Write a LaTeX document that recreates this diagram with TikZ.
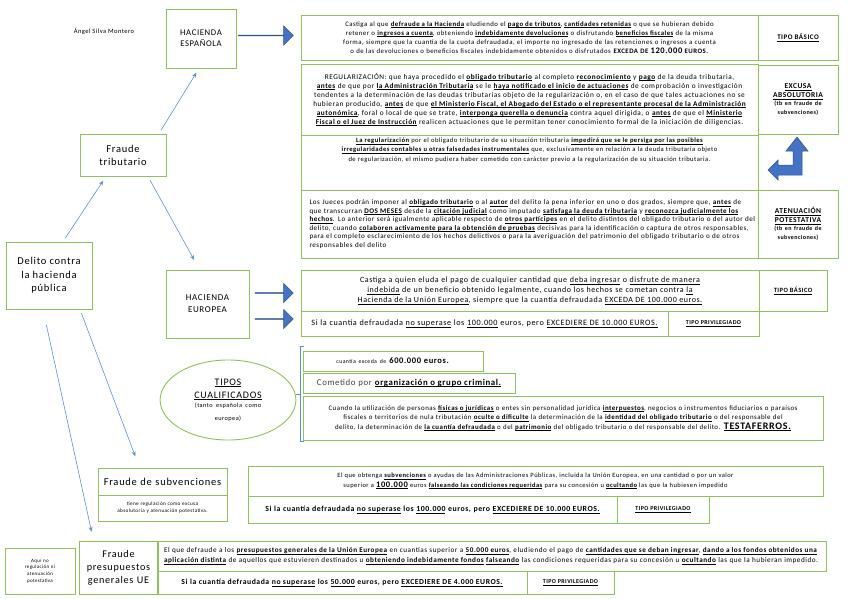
\documentclass[tikz,border=0pt]{standalone}
\usepackage{fontspec}
\setmainfont{Carlito}[LetterSpace=7]
\usetikzlibrary{arrows.meta,shapes.geometric,shapes.arrows}
\definecolor{BoxGreen}{RGB}{140,195,90}
\definecolor{ArrowBlue}{RGB}{68,114,196}
\definecolor{ArrowEdge}{RGB}{47,82,143}
\definecolor{LineBlue}{RGB}{91,145,210}
\hyphenpenalty=10000
\exhyphenpenalty=10000
\def\ulword#1{\setbox0\hbox{#1}\rlap{\vrule height -1.2pt depth 1.6pt width \wd0}\box0}
\def\ulspace{\leaders\hrule height -1.2pt depth 1.6pt\hskip\fontdimen2\font}
\def\rayadoiter#1 #2\relax{\ulword{#1}\if\relax\detokenize{#2}\relax\else\ulspace\rayadoiter#2\relax\fi}
\newcommand{\rayado}[1]{\leavevmode{\bfseries\rayadoiter#1 \relax}}
\newcommand{\subraya}[1]{\leavevmode{\rayadoiter#1 \relax}}

\begin{document}
\begin{tikzpicture}[x=1pt,y=-1pt,
                    caja/.style={draw=BoxGreen,line width=0.9pt,inner sep=2pt,align=center},
                    bloque/.style={single arrow,fill=ArrowBlue,draw=ArrowEdge,line width=0.5pt,inner sep=0pt,single arrow head extend=5pt,minimum width=19pt},
                    enlace/.style={LineBlue,line width=0.6pt,arrows={-Stealth[length=5pt,width=4pt]},shorten <=4pt,shorten >=5pt}]
                    \useasboundingbox (0,0) rectangle (848,599);

                    \node[font=\fontsize{6.5}{8}\selectfont] (firma) at (104,31) {Ángel Silva Montero};

%                    hacienda española
                    \node[caja,minimum width=70,minimum height=59,font=\fontsize{8.7}{11}\selectfont] (hesp) at (201,38.5) {HACIENDA\\ESPAÑOLA};
                    \node[bloque,minimum height=55] (flechaEsp) at (265.5,35.5) {};
                    \node[caja,minimum width=457,minimum height=45,text width=418,font=\fontsize{6.8}{9.2}\selectfont] (basicoEsp) at (529.5,37.5) {Castiga al que \rayado{defraude a la Hacienda} eludiendo el \rayado{pago de tributos}, \rayado{cantidades retenidas} o que se hubieran debido retener o \rayado{ingresos a cuenta}, obteniendo \rayado{indebidamente devoluciones} o disfrutando \rayado{beneficios fiscales} de la misma forma, siempre que la cuantía de la cuota defraudada, el importe no ingresado de las retenciones o ingresos a cuenta o de las devoluciones o beneficios fiscales indebidamente obtenidos o disfrutados \textbf{EXCEDA DE {\fontsize{8.5}{9}\selectfont 120.000} EUROS.}};
                    \node[caja,minimum width=80,minimum height=45,text width=74,font=\fontsize{7}{8}\selectfont] (tipoEsp) at (798,37.5) {\rayado{TIPO BÁSICO}};

                    \node[caja,minimum width=457,minimum height=71,text width=440,font=\fontsize{7.3}{9}\selectfont] (regular) at (529.5,99.5) {REGULARIZACIÓN: que haya procedido el \rayado{obligado tributario} al completo \rayado{reconocimiento} y \rayado{pago} de la deuda tributaria, \rayado{antes} de que por \rayado{la Administración Tributaria} se le \rayado{haya notificado el inicio de actuaciones} de comprobación o investigación tendentes a la determinación de las deudas tributarias objeto de la regularización o, en el caso de que tales actuaciones no se hubieran producido, \rayado{antes} de que \rayado{el Ministerio Fiscal, el Abogado del Estado o el representante procesal de la Administración autonómica}, foral o local de que se trate, \rayado{interponga querella o denuncia} contra aquel dirigida, o \rayado{antes} de que el \rayado{Ministerio Fiscal o el Juez de Instrucción} realicen actuaciones que le permitan tener conocimiento formal de la iniciación de diligencias.};
                    \node[caja,minimum width=80,minimum height=69,text width=76,font=\fontsize{7.5}{9}\selectfont] (excusa) at (798,99.5) {\rayado{EXCUSA}\\\rayado{ABSOLUTORIA}\\{\fontsize{6}{8}\selectfont\bfseries(tb en fraude de\\subvenciones)}};

                    \node[caja,minimum width=457,minimum height=55] (regular2) at (529.5,162.5) {};
                    \node[anchor=north,inner sep=3pt,text width=422,align=center,font=\fontsize{6.6}{9.4}\selectfont] (regular2txt) at (regular2.north) {\rayado{La regularización} por el obligado tributario de su situación tributaria \rayado{impedirá que se le persiga por las posibles irregularidades contables u otras falsedades instrumentales} que, exclusivamente en relación a la deuda tributaria objeto de regularización, el mismo pudiera haber cometido con carácter previo a la regularización de su situación tributaria.};
                    \filldraw[fill=ArrowBlue,draw=ArrowEdge,line width=0.5pt] (797,137) -- (808,151) -- (802,151) -- (802,175) -- (778,175) -- (778,180) -- (768,170) -- (778,160) -- (778,165) -- (793,165) -- (793,151) -- (786,151) -- cycle;

                    \node[caja,minimum width=457,minimum height=68,text width=440,align=left,font=\fontsize{7.1}{8.6}\selectfont] (jueces) at (529.5,224) {Los Jueces podrán imponer al \rayado{obligado tributario} o al \rayado{autor} del delito la pena inferior en uno o dos grados, siempre que, \rayado{antes} de que transcurran \rayado{DOS MESES} desde la \rayado{citación judicial} como imputado \rayado{satisfaga la deuda tributaria} y \rayado{reconozca judicialmente los hechos}. Lo anterior será igualmente aplicable respecto de \rayado{otros partícipes} en el delito distintos del obligado tributario o del autor del delito, cuando \rayado{colaboren activamente para la obtención de pruebas} decisivas para la identificación o captura de otros responsables, para el completo esclarecimiento de los hechos delictivos o para la averiguación del patrimonio del obligado tributario o de otros responsables del delito};
                    \node[caja,minimum width=80,minimum height=68,text width=76,font=\fontsize{7.5}{9}\selectfont] (atenua) at (798,224) {\rayado{ATENUACIÓN}\\\rayado{POTESTATIVA}\\{\fontsize{6}{8}\selectfont\bfseries(tb en fraude de\\subvenciones)}};

%                    raiz y fraude tributario
                    \node[caja,minimum width=86,minimum height=42,font=\fontsize{10.5}{13}\selectfont] (ftrib) at (123,155) {Fraude\\tributario};
                    \node[caja,minimum width=86,minimum height=67,font=\fontsize{10.5}{13.5}\selectfont] (delito) at (49,275.5) {Delito contra\\la hacienda\\pública};

%                    hacienda europea
                    \node[caja,minimum width=83,minimum height=68,font=\fontsize{9}{12}\selectfont] (heu) at (207.5,304) {HACIENDA\\EUROPEA};
                    \node[bloque,minimum height=38] (flechaEu1) at (274,293) {};
                    \node[bloque,minimum height=38] (flechaEu2) at (274,319) {};
                    \node[caja,minimum width=458,minimum height=41,text width=442,font=\fontsize{8}{10}\selectfont] (basicoEu) at (530,290.5) {Castiga a quien eluda el pago de cualquier cantidad que \subraya{deba ingresar} o \subraya{disfrute de manera indebida} de un beneficio obtenido legalmente, cuando los hechos se cometan contra \subraya{la Hacienda de la Unión Europea}, siempre que la cuantía defraudada \subraya{EXCEDA DE 100.000 euros.}};
                    \node[caja,minimum width=68,minimum height=41,text width=64,font=\fontsize{6.5}{8}\selectfont] (tipoEu) at (793,290.5) {\rayado{TIPO BÁSICO}};
                    \node[caja,minimum width=367,minimum height=25,text width=362,font=\fontsize{8.2}{10}\selectfont] (privEu) at (484.5,323.5) {Si la cuantía defraudada \subraya{no superase} los \subraya{100.000} euros, pero \subraya{EXCEDIERE DE 10.000 EUROS.}};
                    \node[caja,minimum width=91,minimum height=25,text width=87,font=\fontsize{6}{7}\selectfont] (tipoPrivEu) at (713.5,323.5) {\rayado{TIPO PRIVILEGIADO}};

%                    tipos cualificados
                    \node[draw=BoxGreen,line width=0.9pt,ellipse,minimum width=127,minimum height=80,text width=96,align=center,inner sep=0pt,font=\fontsize{10}{13}\selectfont] (cualif) at (228,400) {\subraya{TIPOS}\\\subraya{CUALIFICADOS}\\{\fontsize{6.3}{9}\selectfont(tanto española como\\europea)}};
                    \draw[LineBlue,line width=0.6pt] (304,346) -- (300,346) -- (300,441) -- (304,441);
                    \draw[LineBlue,line width=0.6pt] (300,394) -- (296,394);
                    \node[caja,minimum width=180,minimum height=20,text width=176,font=\fontsize{8.5}{10}\selectfont] (cual1) at (393,361) {{\fontsize{5.8}{7}\selectfont cuantía exceda de} \textbf{600.000 euros.}};
                    \node[caja,minimum width=212,minimum height=20,text width=208,font=\fontsize{8.8}{10}\selectfont] (cual2) at (409,383) {{\color{darkgray}Cometido por} \rayado{organización o grupo criminal.}};
                    \node[caja,minimum width=520,minimum height=44,text width=505,font=\fontsize{6.9}{9.5}\selectfont] (cual3) at (563,418) {Cuando la utilización de personas \rayado{físicas o jurídicas} o entes sin personalidad jurídica \rayado{interpuestos}, negocios o instrumentos fiduciarios o paraísos fiscales o territorios de nula tributación \rayado{oculte o dificulte} la determinación de la \rayado{identidad del obligado tributario} o del responsable del delito, la determinación de \rayado{la cuantía defraudada} o del \rayado{patrimonio} del obligado tributario o del responsable del delito. {\fontsize{10}{9.5}\selectfont\rayado{TESTAFERROS.}}};

%                    subvenciones
                    \node[caja,minimum width=129,minimum height=27,text width=125,font=\fontsize{10.5}{12}\selectfont] (fsub) at (162.5,481.5) {Fraude de subvenciones};
                    \node[caja,minimum width=129,minimum height=26,text width=118,font=\fontsize{5.2}{7}\selectfont] (fsubNota) at (162.5,508) {tiene regulación como excusa absolutoria y atenuación potestativa.};
                    \node[caja,minimum width=575,minimum height=30,text width=562,font=\fontsize{6.5}{9.5}\selectfont] (basicoSub) at (535.5,481) {El que obtenga \rayado{subvenciones} o ayudas de las Administraciones Públicas, incluida la Unión Europea, en una cantidad o por un valor superior a {\fontsize{8.5}{9}\selectfont\rayado{100.000}} euros \rayado{falseando las condiciones requeridas} para su concesión u \rayado{ocultando} las que la hubiesen impedido};
                    \node[caja,minimum width=369,minimum height=27,text width=365,font=\fontsize{7.8}{10}\selectfont] (privSub) at (432.5,509.5) {\textbf{Si la cuantía defraudada \subraya{no superase} los \subraya{100.000} euros, pero \subraya{EXCEDIERE DE 10.000 EUROS.}}};
                    \node[caja,minimum width=92,minimum height=27,text width=88,font=\fontsize{6}{7}\selectfont] (tipoPrivSub) at (663,509.5) {\rayado{TIPO PRIVILEGIADO}};

%                    presupuestos UE
                    \node[caja,minimum width=70,minimum height=46,text width=66,font=\fontsize{5}{6.8}\selectfont] (aquiNo) at (40,571) {Aquí no\\regulación ni\\atenuación\\potestativa};
                    \node[caja,minimum width=77,minimum height=53,text width=75,font=\fontsize{10.2}{13}\selectfont] (fpres) at (118.5,567.5) {Fraude\\presupuestos\\generales UE};
                    \node[caja,minimum width=669,minimum height=30,text width=655,align=left,font=\fontsize{7.2}{9.5}\selectfont] (basicoPres) at (491.5,556) {El que defraude a los \rayado{presupuestos generales de la Unión Europea} en cuantías superior a \rayado{50.000 euros}, eludiendo el pago de \rayado{cantidades que se deban ingresar}, \rayado{dando a los fondos obtenidos una aplicación distinta} de aquellos que estuvieren destinados u \rayado{obteniendo indebidamente fondos} \rayado{falseando} las condiciones requeridas para su concesión u \rayado{ocultando} las que la hubieran impedido.};
                    \node[caja,minimum width=370,minimum height=23,text width=366,font=\fontsize{7.7}{10}\selectfont] (privPres) at (342,582.5) {\textbf{Si la cuantía defraudada \subraya{no superase} los \subraya{50.000} euros, pero \subraya{EXCEDIERE DE 4.000 EUROS.}}};
                    \node[caja,minimum width=87,minimum height=23,text width=83,font=\fontsize{6}{7}\selectfont] (tipoPrivPres) at (570.5,582.5) {\rayado{TIPO PRIVILEGIADO}};

%                    enlaces
                    \draw[enlace] ([xshift=14pt]delito.north) -- ([xshift=-17pt]ftrib.south);
                    \draw[enlace] ([xshift=36pt]ftrib.north) -- ([xshift=-2pt]hesp.south);
                    \draw[enlace,shorten >=11pt] ([xshift=25pt]ftrib.south) -- ([xshift=-8pt]heu.north);
                    \draw[enlace,shorten >=12pt] ([xshift=31pt]delito.south) -- ([xshift=-23pt]fsub.north);
                    \draw[enlace,shorten <=16pt,shorten >=9pt] ([xshift=-6pt]delito.south) -- ([xshift=-25pt]fpres.north);
\end{tikzpicture}
\end{document}
